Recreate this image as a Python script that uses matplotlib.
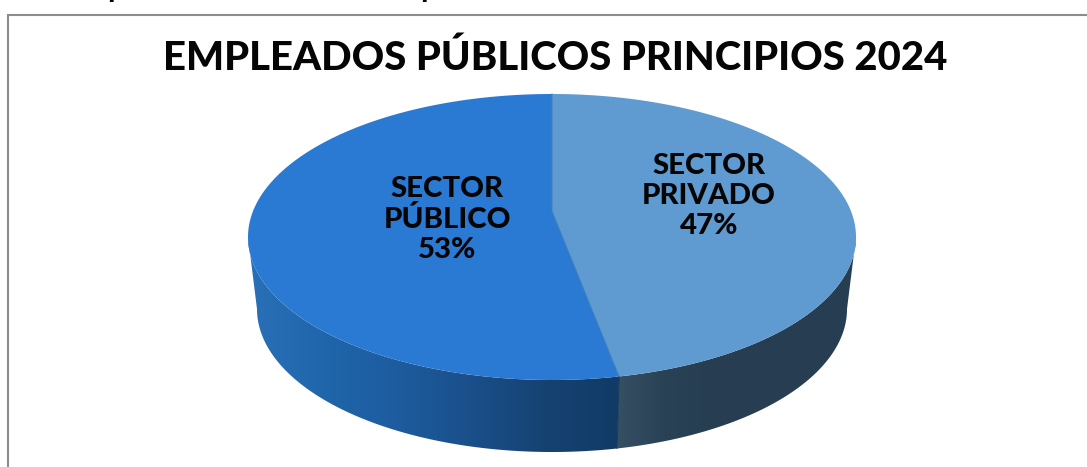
#!/usr/bin/env python3
"""Empleados publicos 2024: 3D-looking pie drawn on a pixel-sized axes."""

import numpy as np
import matplotlib
matplotlib.use("Agg")
import matplotlib.pyplot as plt
from matplotlib.colors import LinearSegmentedColormap
from matplotlib.patches import Polygon

title = "EMPLEADOS PÚBLICOS PRINCIPIOS 2024"
categories = ["SECTOR\nPRIVADO", "SECTOR\nPÚBLICO"]
shares = [47, 53]

TOP_COLORS = ["#5f9bd0", "#2a7ad3"]
W, H = 1087, 467
CX, CY, RX, RY = 552, 237, 304, 143
DEPTH = 72
BOTTOM_SCALE = 295 / 304  # lower rim is a little narrower
APEX_Y = 211  # wedges meet above the ellipse centre (perspective)

plt.rcParams["font.family"] = ["Lato", "DejaVu Sans"]
fig = plt.figure(figsize=(W / 100, H / 100), dpi=100)
ax = fig.add_axes([0, 0, 1, 1])
ax.set_xlim(0, W)
ax.set_ylim(H, 0)
ax.axis("off")


def edge_point(share):
    # ray from the apex, clockwise from 12 o'clock, out to the ellipse rim
    a = 2 * np.pi * share / 100
    dx, dy = RX * np.sin(a), -RY * np.cos(a)
    off = APEX_Y - CY
    qa = (dx / RX) ** 2 + (dy / RY) ** 2
    qb = 2 * dy * off / RY ** 2
    qc = (off / RY) ** 2 - 1
    t = (-qb + np.sqrt(qb ** 2 - 4 * qa * qc)) / (2 * qa)
    return CX + t * dx, APEX_Y + t * dy


def rim(a0, a1, n=200):
    t = np.linspace(a0, a1, n)
    return CX + RX * np.sin(t), CY - RY * np.cos(t)


def lower(xs, ys):
    return CX + (xs - CX) * BOTTOM_SCALE, ys + DEPTH


split_x, split_y = edge_point(shares[0])
split_a = np.arctan2(split_x - CX, -(split_y - CY) * RX / RY) % (2 * np.pi)
split_bx, split_by = lower(split_x, split_y)


def side_band(a0, a1, cmap, x0, x1):
    xs, ys = rim(a0, a1)
    bx, by = lower(xs, ys)
    pts = np.r_[np.c_[xs, ys], np.c_[bx[::-1], by[::-1]]]
    im = ax.imshow(np.linspace(0, 1, 256)[None, :], cmap=cmap, aspect="auto",
                   extent=(x0, x1, H, 0), zorder=2)
    im.set_clip_path(Polygon(pts, closed=True, transform=ax.transData))


pub_side = LinearSegmentedColormap.from_list(
    "pub", ["#2a70b8", "#2066ab", "#1d5c9f", "#1a4f8a", "#164272", "#113a66"])
priv_side = LinearSegmentedColormap.from_list(
    "priv", ["#364f63", "#2a4256", "#273e52", "#273e52", "#273e52", "#273e52"])

side_band(split_a, 1.5 * np.pi, pub_side, CX - RX, split_x)
side_band(np.pi / 2, split_a, priv_side, split_bx, CX + RX)

# top face, one wedge per share
xs, ys = rim(0, split_a)
ax.add_patch(Polygon(np.c_[np.r_[CX, xs], np.r_[APEX_Y, ys]], closed=True,
                     fc=TOP_COLORS[0], ec="none", zorder=3))
xs, ys = rim(split_a, 2 * np.pi)
ax.add_patch(Polygon(np.c_[np.r_[CX, xs], np.r_[APEX_Y, ys]], closed=True,
                     fc=TOP_COLORS[1], ec="none", zorder=3))
ax.plot([split_x, CX, CX], [split_y, APEX_Y, CY - RY], color="#3f7fbd", lw=0.7, zorder=4)
ax.plot([split_x, split_bx], [split_y, split_by], color="#123a63", lw=0.7, zorder=4)

# chart frame, open at the right and bottom because the picture is cropped
ax.plot([8, 8, W], [H, 15, 15], color="#8c8c8c", lw=1.5, zorder=1, solid_joinstyle="miter")

ax.text(555, 58, title, fontsize=28.9, fontweight="black", ha="center", va="center", color="#050505")

ax.text(709, 196, f"{categories[0]}\n{shares[0]}%", fontsize=21.2, fontweight="black",
        ha="center", va="center", color="#050505", linespacing=1.18, zorder=5)
ax.text(447, 219.5, f"{categories[1]}\n{shares[1]}%", fontsize=21.2, fontweight="black",
        ha="center", va="center", color="#050505", linespacing=1.18, zorder=5)

# descenders of the text line cropped off the top of the picture
for x in (107, 420):
    ax.text(x, -3, "p", fontsize=22, fontweight="bold", ha="left", va="baseline",
            color="#050505", clip_on=False)

fig.savefig("out.png", dpi=100)
